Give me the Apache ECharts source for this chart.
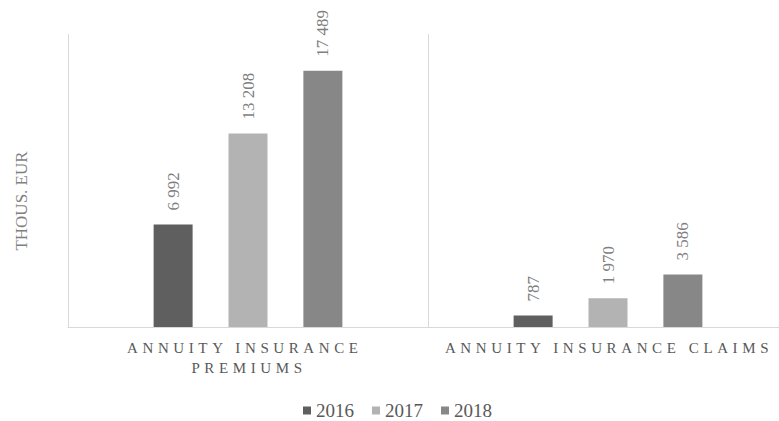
<!DOCTYPE html>
<html>
<head>
<meta charset="utf-8">
<script src="https://cdn.jsdelivr.net/npm/echarts@6/dist/echarts.min.js"></script>
<style>html,body{margin:0;padding:0;background:#fff;}#c{width:779px;height:421px;}</style>
</head>
<body>
<div id="c"></div>
<script>
const categories = ['ANNUITY INSURANCE PREMIUMS', 'ANNUITY INSURANCE CLAIMS'];
const years = ['2016', '2017', '2018'];
const values2016 = [6992, 787];
const values2017 = [13208, 1970];
const values2018 = [17489, 3586];
const yAxisName = 'THOUS. EUR';

const colors = ['#5f5f5f', '#b3b3b3', '#878787'];
const FONT = "'Liberation Serif', 'Times New Roman', serif";

const chart = echarts.init(document.getElementById('c'), null, {renderer: 'svg'});

function fmt(v) {
  return String(v).replace(/\B(?=(\d{3})+(?!\d))/g, ' ');
}

const seriesData = [values2016, values2017, values2018];
const series = years.map((y, i) => ({
  name: y,
  type: 'bar',
  data: seriesData[i],
  barWidth: 39,
  barGap: '92%',
  itemStyle: {color: colors[i]},
  label: {
    show: true,
    position: 'top',
    rotate: 90,
    align: 'left',
    verticalAlign: 'middle',
    distance: 14,
    fontFamily: FONT,
    fontSize: 17,
    color: '#7f7f7f',
    formatter: p => fmt(p.value)
  }
}));

chart.setOption({
  animation: false,
  grid: {left: 68, top: 34, width: 720, height: 293, containLabel: false, outerBoundsMode: 'none'},
  legend: {
    data: years,
    left: 298,
    top: 396,
    icon: 'rect',
    itemWidth: 8,
    itemHeight: 8,
    itemGap: 18,
    textStyle: {fontFamily: FONT, fontSize: 19, color: '#595959'}
  },
  xAxis: {
    type: 'category',
    data: categories,
    axisLine: {show: true, lineStyle: {color: '#d9d9d9', width: 1}},
    axisTick: {show: false},
    splitLine: {show: true, lineStyle: {color: '#d9d9d9', width: 1}},
    axisLabel: {
      fontFamily: FONT,
      fontSize: 15,
      color: '#595959',
      margin: 11,
      lineHeight: 20,
      width: 228,
      overflow: 'break',
      interval: 0
    }
  },
  yAxis: {
    type: 'value',
    min: 0,
    max: 20000,
    axisLine: {show: false},
    axisTick: {show: false},
    axisLabel: {show: false},
    splitLine: {show: false}
  },
  graphic: [{
    type: 'text',
    x: 21,
    y: 201,
    rotation: Math.PI / 2,
    style: {
      text: yAxisName,
      fontFamily: FONT,
      fontSize: 17,
      fill: '#7f7f7f',
      align: 'center',
      verticalAlign: 'middle'
    }
  }],
  series: series
});

function spaceLabels() {
  const texts = document.querySelectorAll('#c svg text');
  texts.forEach(t => {
    const s = (t.textContent || '').trim();
    if (s.length > 3 && /[A-Z]/.test(s) && categories.some(c => c.indexOf(s) >= 0)) {
      t.setAttribute('letter-spacing', '4.6');
      if (!t.getAttribute('data-sp')) {
        t.setAttribute('data-sp', '1');
        t.setAttribute('dx', '1');
      }
    }
  });
}
spaceLabels();
chart.on('finished', spaceLabels);
setTimeout(spaceLabels, 0);
setTimeout(spaceLabels, 50);
</script>
</body>
</html>
